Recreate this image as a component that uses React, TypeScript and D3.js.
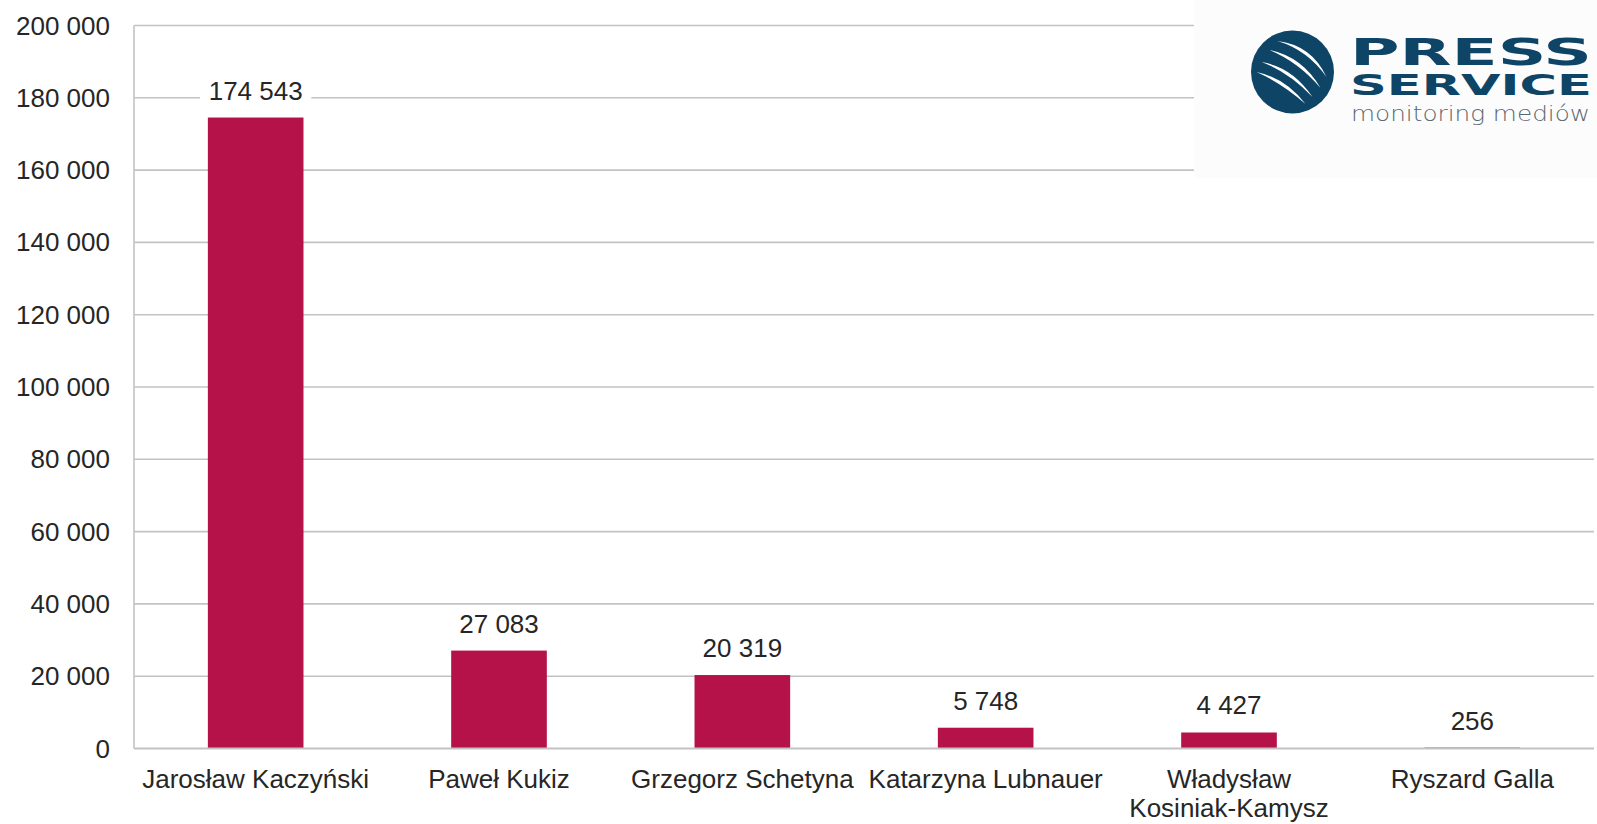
import React from "react";
import * as d3 from "d3";

// ---- data ----
const categories = [
  "Jarosław Kaczyński",
  "Paweł Kukiz",
  "Grzegorz Schetyna",
  "Katarzyna Lubnauer",
  "Władysław\nKosiniak-Kamysz",
  "Ryszard Galla",
];
const values = [174543, 27083, 20319, 5748, 4427, 256];
const yTicks = [0, 20000, 40000, 60000, 80000, 100000, 120000, 140000, 160000, 180000, 200000];

const W = 1597;
const H = 824;
const FONT = "'Liberation Sans', Arial, Helvetica, sans-serif";
const BAR = "#b5124a";
const GRID = "#c3c3c3";
const TEXT = "#262626";

const locale = d3.formatLocale({ decimal: ",", thousands: "\u00a0", grouping: [3], currency: ["", " zł"] });
const fmt = locale.format(",");

function Logo() {
  const blue = "#0e4466";
  const cx = 1292.5;
  const cy = 72;
  // white slashes inside the circle (offsets from centre)
  const slashes = [
    { a: [-15, -31], b: [34, 5], c: [16, -24] },
    { a: [-23, -22], b: [28, 16], c: [7, -12] },
    { a: [-31, -10], b: [20, 25], c: [-3, -2] },
    { a: [-36, 0], b: [13, 32], c: [-10, 9] },
  ];
  return (
    <g>
      <rect x={1194} y={0} width={W - 1194} height={178} fill="#fcfcfc" />
      <circle cx={cx} cy={cy} r={41.5} fill={blue} />
      {slashes.map((s, i) => {
        const [ax, ay] = s.a;
        const [bx, by] = s.b;
        const [qx, qy] = s.c;
        const d = `M${cx + ax},${cy + ay} Q${cx + qx + 3},${cy + qy - 3} ${cx + bx},${cy + by} Q${cx + qx - 1},${cy + qy + 2} ${cx + ax},${cy + ay}Z`;
        return <path key={i} d={d} fill="#ffffff" />;
      })}
      <text fontFamily="'DejaVu Sans', sans-serif" fontWeight={700} fill={blue}>
        <tspan x={1350} y={65} fontSize={38} textLength={242} lengthAdjust="spacingAndGlyphs">PRESS</tspan>
        <tspan x={1350} y={95} fontSize={29} textLength={242} lengthAdjust="spacingAndGlyphs">SERVICE</tspan>
      </text>
      <text x={1351} y={121} fontFamily="'DejaVu Sans', sans-serif" fontWeight={200} fontSize={21}
        fill="#5b6770" textLength={239} lengthAdjust="spacingAndGlyphs">monitoring mediów</text>
    </g>
  );
}

export default function App() {
  const left = 134;
  const right = 1594;
  const top = 25.5;
  const bottom = 748.5;

  const x = d3.scaleBand<string>().domain(categories).range([left, right]).padding(0);
  const y = d3.scaleLinear().domain([0, 200000]).range([bottom, top]);
  const barW = x.bandwidth() * 0.393;

  return (
    <svg width={W} height={H} style={{ position: "absolute", left: 0, top: 0, background: "#fff" }}>
      <rect x={0} y={0} width={W} height={H} fill="#fff" />
      {/* gridlines */}
      {yTicks.filter((t) => t > 0).map((t) => (
        <line key={t} x1={left} x2={right} y1={y(t)} y2={y(t)} stroke={GRID} strokeWidth={1.6} />
      ))}
      <line x1={left} x2={left} y1={top} y2={bottom} stroke={GRID} strokeWidth={1.6} />

      <Logo />

      {/* y tick labels */}
      {yTicks.map((t) => (
        <text key={t} x={110} y={y(t) + 9} textAnchor="end" fontFamily={FONT} fontSize={26} fill={TEXT}>
          {fmt(t)}
        </text>
      ))}

      {/* bars */}
      {categories.map((c, i) => {
        const cxm = (x(c) ?? 0) + x.bandwidth() / 2;
        return (
          <rect key={c} x={cxm - barW / 2} y={y(values[i])} width={barW}
            height={y(0) - y(values[i])} fill={BAR} />
        );
      })}

      {/* zero line above the bars */}
      <line x1={left} x2={right} y1={y(0)} y2={y(0)} stroke={GRID} strokeWidth={1.8} />

      {/* value labels */}
      {categories.map((c, i) => {
        const cxm = (x(c) ?? 0) + x.bandwidth() / 2;
        const label = fmt(values[i]);
        const tw = label.length * 13.6 + 16;
        const base = y(values[i]) - 18;
        return (
          <g key={c}>
            <rect x={cxm - tw / 2} y={base - 22} width={tw} height={30} fill="#fff" />
            <text x={cxm} y={base} textAnchor="middle" fontFamily={FONT} fontSize={26} fill={TEXT}>
              {label}
            </text>
          </g>
        );
      })}

      {/* category labels */}
      {categories.map((c) => {
        const cxm = (x(c) ?? 0) + x.bandwidth() / 2;
        return (
          <text key={c} x={cxm} y={788} textAnchor="middle" fontFamily={FONT} fontSize={26} fill={TEXT}>
            {c.split("\n").map((ln, j) => (
              <tspan key={j} x={cxm} dy={j === 0 ? 0 : 29}>{ln}</tspan>
            ))}
          </text>
        );
      })}
    </svg>
  );
}
